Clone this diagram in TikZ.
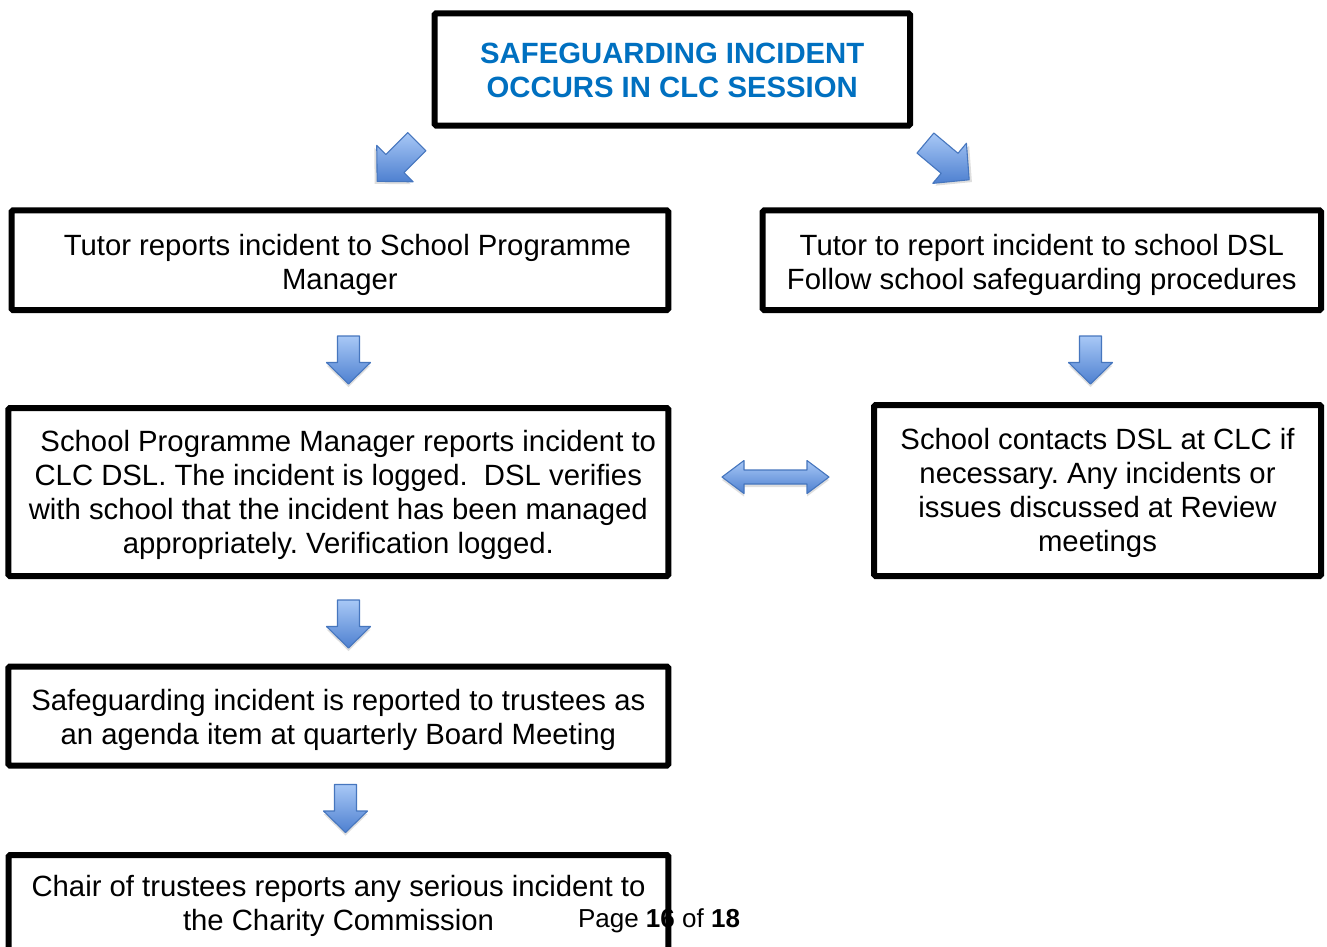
\documentclass[tikz,border=0pt]{standalone}
\usepackage{fontspec}
\setmainfont{Liberation Sans}
\frenchspacing
\newcommand\tdrop[1]{\rule{0pt}{#1}}
\definecolor{titleblue}{RGB}{0,112,192}
\definecolor{arrowlight}{RGB}{168,200,246}
\definecolor{arrowdark}{RGB}{78,128,208}
\definecolor{arrowborder}{RGB}{70,118,190}
\tikzset{
  box/.style={draw, line width=6pt, rounded corners=1.5pt, align=center, inner sep=0pt,
    font=\fontsize{29.3}{34}\selectfont},
  blockfill/.style={draw=arrowborder, line width=1.1pt, line join=round,
    top color=arrowlight, bottom color=arrowdark},
  blockshadow/.style={fill=black, fill opacity=0.13},
  blockdown/.pic={
    \path[blockshadow] (-11,-21) -- (11,-21) -- (11,5.5) -- (22,5.5) -- (0,27) -- (-22,5.5) -- (-11,5.5) -- cycle;
    \path[blockfill] (-11,-24) -- (11,-24) -- (11,2.5) -- (22,2.5) -- (0,24) -- (-22,2.5) -- (-11,2.5) -- cycle;
  },
  blockboth/.pic={
    \path[blockshadow] (-53.5,3) -- (-31.5,-13.5) -- (-31.5,-4) -- (31.5,-4) -- (31.5,-13.5) -- (53.5,3) -- (31.5,19.5) -- (31.5,10) -- (-31.5,10) -- (-31.5,19.5) -- cycle;
    \path[blockfill] (-53.5,0) -- (-31.5,-16.5) -- (-31.5,-7) -- (31.5,-7) -- (31.5,-16.5) -- (53.5,0) -- (31.5,16.5) -- (31.5,7) -- (-31.5,7) -- (-31.5,16.5) -- cycle;
  }
}
\begin{document}
\begin{tikzpicture}[x=1pt,y=-1pt]
\clip (0,0) rectangle (1327,946);
\fill[white] (0,0) rectangle (1327,946);

\node[box, minimum width=475.5pt, minimum height=112.2pt, text=titleblue,
  font=\fontsize{29.3}{34}\selectfont\bfseries] (top) at (672.25,69.4)
  {\tdrop{23pt}SAFEGUARDING INCIDENT\\OCCURS IN CLC SESSION};

\node[box, minimum width=656.8pt, minimum height=99.7pt] (spm) at (339.9,260.2)
  {\tdrop{31pt}\hspace*{15pt}Tutor reports incident to School Programme\\Manager};

\node[box, minimum width=558.3pt, minimum height=99.7pt] (sdsl) at (1041.85,260.2)
  {\tdrop{31pt}Tutor to report incident to school DSL\\Follow school safeguarding procedures};

\node[box, minimum width=660pt, minimum height=168pt] (clcdsl) at (338.3,492)
  {\tdrop{27pt}\hspace*{20pt}School Programme Manager reports incident to\\
   CLC DSL. The incident is logged.~ DSL verifies\\
   with school that the incident has been managed\\
   appropriately. Verification logged.};

\node[box, minimum width=447pt, minimum height=171pt] (contact) at (1097.5,490.5)
  {\tdrop{27pt}School contacts DSL at CLC if\\necessary. Any incidents or\\issues discussed at Review\\meetings};

\node[box, minimum width=660pt, minimum height=99pt] (trustees) at (338.3,716)
  {\tdrop{29pt}Safeguarding incident is reported to trustees as\\an agenda item at quarterly Board Meeting};

\node[font=\fontsize{26}{30}\selectfont, inner sep=0pt] (page) at (659,921)
  {Page \textbf{16} of \textbf{18}};

\node[box, minimum width=659.6pt, minimum height=99pt] (chair) at (338.5,904.5)
  {\tdrop{25pt}Chair of trustees reports any serious incident to\\the Charity Commission};

\pic[rotate=-45, scale=1.17] (arrowsw) at (397,161.5) {blockdown};
\pic[rotate=50, scale=1.19] (arrowse) at (947.3,161.4) {blockdown};
\pic (arrowa) at (348.5,360) {blockdown};
\pic (arrowb) at (1090.5,360) {blockdown};
\pic (arrowc) at (348.5,624) {blockdown};
\pic (arrowd) at (345.5,808.5) {blockdown};
\pic (arrowboth) at (775.5,477) {blockboth};
\end{tikzpicture}
\end{document}
